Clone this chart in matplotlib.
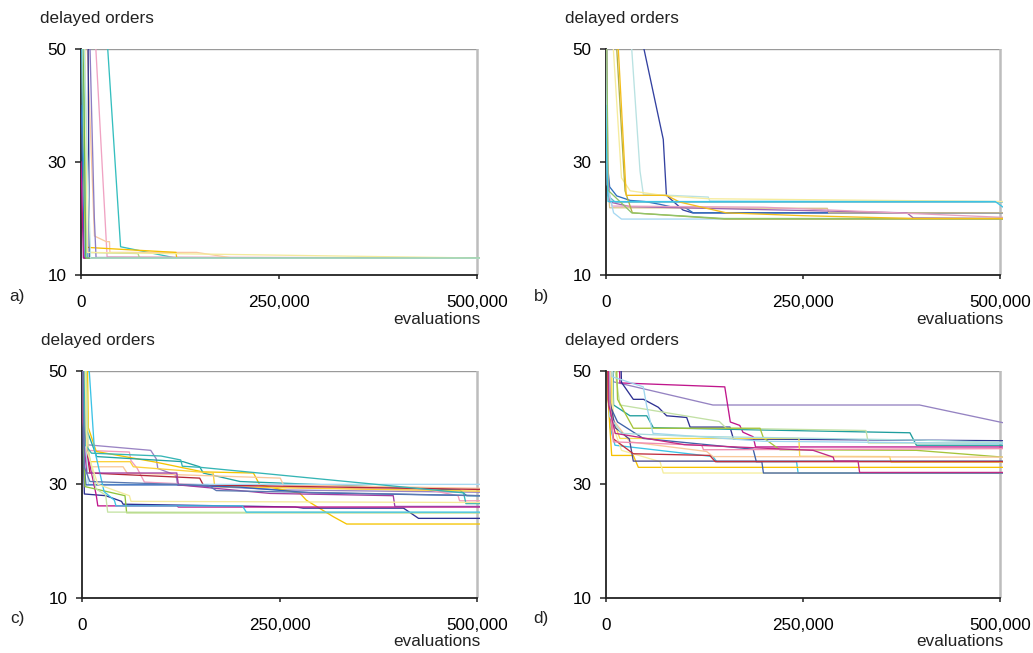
import matplotlib.pyplot as plt

plt.rcParams['font.family'] = ['Liberation Sans', 'DejaVu Sans']

W, H = 1033, 653

# ---- panel a) : x in thousands of evaluations, y = delayed orders
a_x = [
    [0, 31, 50, 57, 120, 504],
    [0, 18, 33, 504],
    [0, 8, 17, 32, 36, 36.5, 146, 192, 504],
    [0, 3, 6, 120, 121, 504],
    [0, 4, 6, 72, 74, 504],
    [0, 2, 8, 504],
    [0, 9, 10.5, 504],
    [0, 11.4, 16.8, 19, 504],
    [0, 1, 4, 504],
    [0, 1, 3, 504],
    [0, 2, 7, 504],
    [0, 5, 8, 504],
    [0, 3, 6, 504],
    [0, 4, 12, 504],
]
a_y = [
    [120, 56, 15, 14.8, 13, 13],
    [150, 52, 13.2, 13],
    [120, 50, 16.9, 15.9, 15.9, 14, 14, 13, 13],
    [70, 30, 14.9, 14.0, 13, 13],
    [90, 40, 14, 13.8, 13, 13],
    [60, 35, 13, 13],
    [100, 50, 13, 13],
    [100, 50, 20.2, 13.1, 13],
    [40, 36, 13, 13],
    [30, 25, 13, 13],
    [70, 50, 13, 13],
    [80, 50, 14, 13],
    [90, 50, 13, 13],
    [90, 50, 13, 13],
]
a_col = ['#35bfbf', '#f0a3c3', '#f9c9a0', '#f5c000', '#b5d888', '#45a8c8',
         '#2e3192', '#8b7cc4', '#2f6bbf', '#c0168c', '#a8dcef', '#f4eb9c',
         '#6cb84a', '#b8e3e0']

# ---- panel b)
b_x = [
    [0, 47, 73, 77, 98, 110, 504],
    [0, 2, 5, 14, 31, 50, 69, 85, 100, 111, 504],
    [0, 3, 12, 494, 504],
    [0, 3, 5, 281, 283, 504],
    [0, 2, 5.4, 31, 382, 390, 504],
    [0, 3, 8, 200, 504],
    [0, 2, 10, 20, 249, 504],
    [0, 33, 43.5, 47.7, 130, 132, 504],
    [0, 9.7, 20, 31, 77, 130, 504],
    [0, 14, 24.5, 33.8, 151, 504],
    [0, 1.5, 3, 33, 150, 504],
    [0, 16, 26, 77, 94, 153, 250, 390, 504],
    [0, 1, 3, 494, 504],
]
b_y = [
    [150, 51, 34, 24.1, 21.5, 21, 21],
    [80, 30, 25.6, 24, 23.2, 23, 22.5, 22, 22, 21, 21],
    [40, 24, 22.9, 22.9, 22.9],
    [60, 26, 21.9, 21.8, 21, 21],
    [60, 30, 22.9, 22.1, 21.0, 20.1, 20],
    [70, 25, 22.2, 22.0, 20.2],
    [50, 26, 21, 19.9, 19.9, 19.9],
    [200, 50, 28.4, 24.3, 23.8, 23.1, 23.0],
    [200, 50, 27.2, 24.9, 24.0, 23.5, 23.0],
    [200, 50, 24.9, 21.0, 19.9, 19.9],
    [200, 50, 25, 21, 20, 20],
    [200, 50, 24.1, 24.1, 22.9, 21, 20.5, 20, 20],
    [40, 32, 23, 23, 22],
]
b_col = ['#3341a0', '#2f6fbd', '#5bb5c5', '#dcc38a', '#a065b0', '#e6a0c0',
         '#a6d8f2', '#b9e2e2', '#f6ec9e', '#b3b041', '#8fc46a', '#f4be1a',
         '#3cc3e6']

# ---- panel c)
c_x = [
    [0, 2, 5, 87, 94, 96, 119, 121, 260, 504],
    [0, 2, 5, 60, 62, 70, 79, 200, 440, 476, 478, 504],
    [0, 8, 18, 94, 153, 217, 225, 276, 284, 318, 335, 504],
    [0, 5, 18.6, 128, 149, 153.5, 200, 478, 487, 504],
    [0, 4, 10, 61, 65, 166, 168, 504],
    [0, 4, 10, 52, 57, 251, 255, 504],
    [0, 1.7, 10, 149, 153.5, 504],
    [0, 3, 8, 504],
    [0, 2, 5, 119, 200, 290, 504],
    [0, 1.5, 3, 30, 50, 52, 270, 280, 407, 426, 504],
    [0, 1, 9, 18, 20, 30, 120, 122, 504],
    [0, 2, 3.8, 22.8, 54.4, 56.5, 504],
    [0, 8, 17.7, 30, 32.5, 55, 504],
    [0, 9, 15.6, 28, 41, 43, 203, 208, 504],
    [0, 4, 12, 100, 125, 127, 150, 483, 486, 504],
    [0, 2, 6, 120, 122, 238, 394, 396, 504],
    [0, 3, 10, 160, 170, 504],
    [0, 6, 20, 60, 62, 504],
]
c_y = [
    [90, 45, 37.0, 36.0, 34.5, 32.8, 31.6, 29.9, 29.0, 28.6],
    [90, 45, 36.0, 35.7, 34.2, 32.8, 30.4, 29.6, 29.0, 28.0, 27.1, 27.1],
    [120, 40, 35.8, 33.9, 32.2, 32.0, 29.9, 28.4, 27.2, 24.3, 23.0, 23.0],
    [100, 40, 34.9, 34.0, 33.1, 32.0, 30.5, 29.0, 28.0, 28.0],
    [100, 40, 34.0, 34.0, 33.1, 32.0, 29.6, 28.8],
    [100, 40, 33.1, 33.1, 32.0, 31.1, 29.9, 29.3],
    [60, 40.2, 32.0, 31.1, 29.9, 29.1],
    [80, 40, 30, 30],
    [80, 35, 29.9, 29.9, 29.5, 28.5, 28.0],
    [60, 37, 28.3, 28, 27, 26.5, 26, 25.8, 25.8, 24, 24],
    [60, 41, 34, 28.1, 26.2, 26.2, 26.2, 26.0, 26.0],
    [80, 36, 29.6, 29.0, 28.0, 25.0, 25.0],
    [80, 36, 29.2, 28.1, 25.1, 25.1, 25.0],
    [120, 50.4, 36.3, 28.7, 27.2, 26.2, 26.2, 25.1, 25.1],
    [90, 37, 35.5, 35, 34.3, 33.2, 33.0, 28.5, 26.6, 26.6],
    [70, 38, 32.0, 32.0, 29.9, 28.4, 28.0, 26.1, 26.1],
    [60, 33, 30.5, 29.8, 28.9, 28.0],
    [80, 36, 30, 28, 27, 26.8],
]
c_col = ['#9a84c4', '#f29bbd', '#f5c400', '#23a3a3', '#fbd13a', '#f9c89b',
         '#b5283a', '#a6d9f2', '#2f62b8', '#2e3192', '#c0168c', '#8fc43c',
         '#c5e3a5', '#3cc3e6', '#35b5b5', '#a23ea2', '#5a78b0', '#f4eb9c']

# ---- panel d)
d_x = [
    [0, 5, 9.7, 136, 398, 503],
    [0, 18, 151, 158, 170, 174, 187, 190, 504],
    [0, 20, 35, 48, 66.7, 73, 77.3, 102.7, 107, 157.6, 162, 504],
    [0, 10, 30.8, 52, 60.4, 195.7, 385.8, 394, 504],
    [0, 12, 18, 144, 153, 330, 333, 504],
    [0, 15, 35, 195.7, 200, 221, 394, 504],
    [0, 3, 5.5, 11.8, 136, 140.7, 242, 244, 504],
    [0, 3, 7.6, 35, 41.4, 504],
    [0, 8, 18, 245, 246, 360, 362, 504],
    [0, 10, 20, 68.9, 73, 212.5, 504],
    [0, 6, 30.8, 128, 136, 504],
    [0, 5, 15, 47.7, 187, 191, 198, 200, 504],
    [0, 5, 12, 30, 35, 504],
    [0, 3, 10, 35, 132, 139, 504],
    [0, 5, 9.7, 121.8, 124, 504],
    [0, 8, 47.7, 52, 60, 200, 504],
    [0, 5, 20, 100, 400, 504],
    [0, 4, 12, 100, 263, 288.5, 290, 320, 322, 504],
]
d_y = [
    [150, 55, 48.1, 44.0, 44.0, 40.9],
    [150, 47.9, 47.2, 41.0, 40.4, 39.2, 38.4, 36.6, 36.6],
    [150, 48, 45.0, 45.0, 43.6, 42.7, 42.1, 41.8, 40.1, 40.1, 38.0, 37.7],
    [100, 44, 42.1, 42.1, 40.0, 39.6, 39.1, 36.9, 36.9],
    [150, 50, 44.0, 41.1, 39.9, 39.5, 37.3, 37.3],
    [120, 45, 39.9, 39.9, 38.2, 36.1, 36.0, 34.8],
    [120, 48, 40.1, 36.9, 34.9, 34.0, 34.0, 32.0, 32.0],
    [150, 45, 35.1, 35.1, 33.0, 33.0],
    [120, 42, 38.1, 38.1, 34.95, 34.9, 33.9, 33.9],
    [100, 40, 36, 34.0, 32.0, 32.0, 32.0],
    [100, 42, 37.5, 35.8, 34.9, 34.8],
    [120, 44, 41, 38.1, 36.2, 34.0, 34.0, 32.0, 32.0],
    [100, 45, 40, 38, 34.1, 34.1],
    [100, 45, 38, 35.4, 35.1, 34.0, 34.0],
    [120, 45, 37.5, 36.9, 36.1, 36.3],
    [150, 49, 47.2, 43.8, 39, 37.6, 37.2],
    [100, 42, 39, 38.5, 37.8, 37.4],
    [100, 44, 39, 37, 36.0, 34.8, 34.1, 34.1, 32.1, 32.1],
]
d_col = ['#9583c2', '#c0168c', '#2e3192', '#1f9e9e', '#c2e0a4', '#a6c43a',
         '#3cc3e6', '#f6c100', '#f8dc4a', '#f5ee9e', '#f9c89b', '#3f62a8',
         '#4b4b8f', '#c0303f', '#f08cb0', '#9fd6ee', '#a8dcdc', '#c02a84']

panels = [
    ('a)', a_x, a_y, a_col, 81.0, 49.0, 395.7, 226.0),
    ('b)', b_x, b_y, b_col, 605.7, 49.0, 394.3, 226.0),
    ('c)', c_x, c_y, c_col, 82.0, 371.0, 395.0, 226.7),
    ('d)', d_x, d_y, d_col, 605.7, 371.0, 394.3, 226.7),
]

fig = plt.figure(figsize=(W / 100, H / 100), dpi=100)
fig.patch.set_facecolor('white')

fs = 12.3
for label, xs, ys, cols, left, top, w500, h in panels:
    w = w500 * 504 / 500
    ax = fig.add_axes([left / W, 1 - (top + h) / H, w / W, h / H])
    ax.patch.set_alpha(0)
    for x, y, c in zip(xs, ys, cols):
        ax.plot([v * 1000 for v in x], y, color=c, lw=0.95, zorder=3)
    ax.set_xlim(0, 504000)
    ax.set_ylim(10, 50)
    ax.set_yticks([10, 30, 50])
    ax.set_yticklabels(['10', '30', '50'], fontsize=fs)
    ax.set_xticks([0, 250000, 500000])
    ax.set_xticklabels(['0', '250,000', '500,000'], fontsize=fs)
    ax.tick_params(axis='y', direction='out', length=4, width=1.1,
                   color='#222222', pad=6.3)
    ax.tick_params(axis='x', direction='out', length=3, width=1.1,
                   color='#222222', pad=11.5)
    for s in ('top', 'right'):
        ax.spines[s].set_visible(False)
    ax.spines['left'].set_color('#222222')
    ax.spines['left'].set_linewidth(1.3)
    ax.spines['bottom'].set_color('#222222')
    ax.spines['bottom'].set_linewidth(1.3)
    ax.spines['bottom'].set_bounds(0, 500000)
    # grey frame on top and right at 500,000
    ax.axhline(50, xmin=0, xmax=500 / 504, color='#9a9a9a', lw=1.0, zorder=1)
    ax.axvline(500000, color='#bdbdbd', lw=1.8, zorder=1)

    ax_top = top
    ax_bottom = top + h
    fig.text((left - 41) / W, 1 - (ax_top - 26.5) / H, 'delayed orders',
             fontsize=fs, ha='left', va='baseline', color='#222222')
    fig.text((left - 72) / W, 1 - (ax_bottom + 21) / H, label,
             fontsize=fs, ha='left', va='center', color='#222222')
    fig.text((left + w500 + 3.5) / W, 1 - (ax_bottom + 44) / H, 'evaluations',
             fontsize=fs, ha='right', va='center', color='#222222')

fig.savefig('out.png', dpi=100, facecolor='white')
